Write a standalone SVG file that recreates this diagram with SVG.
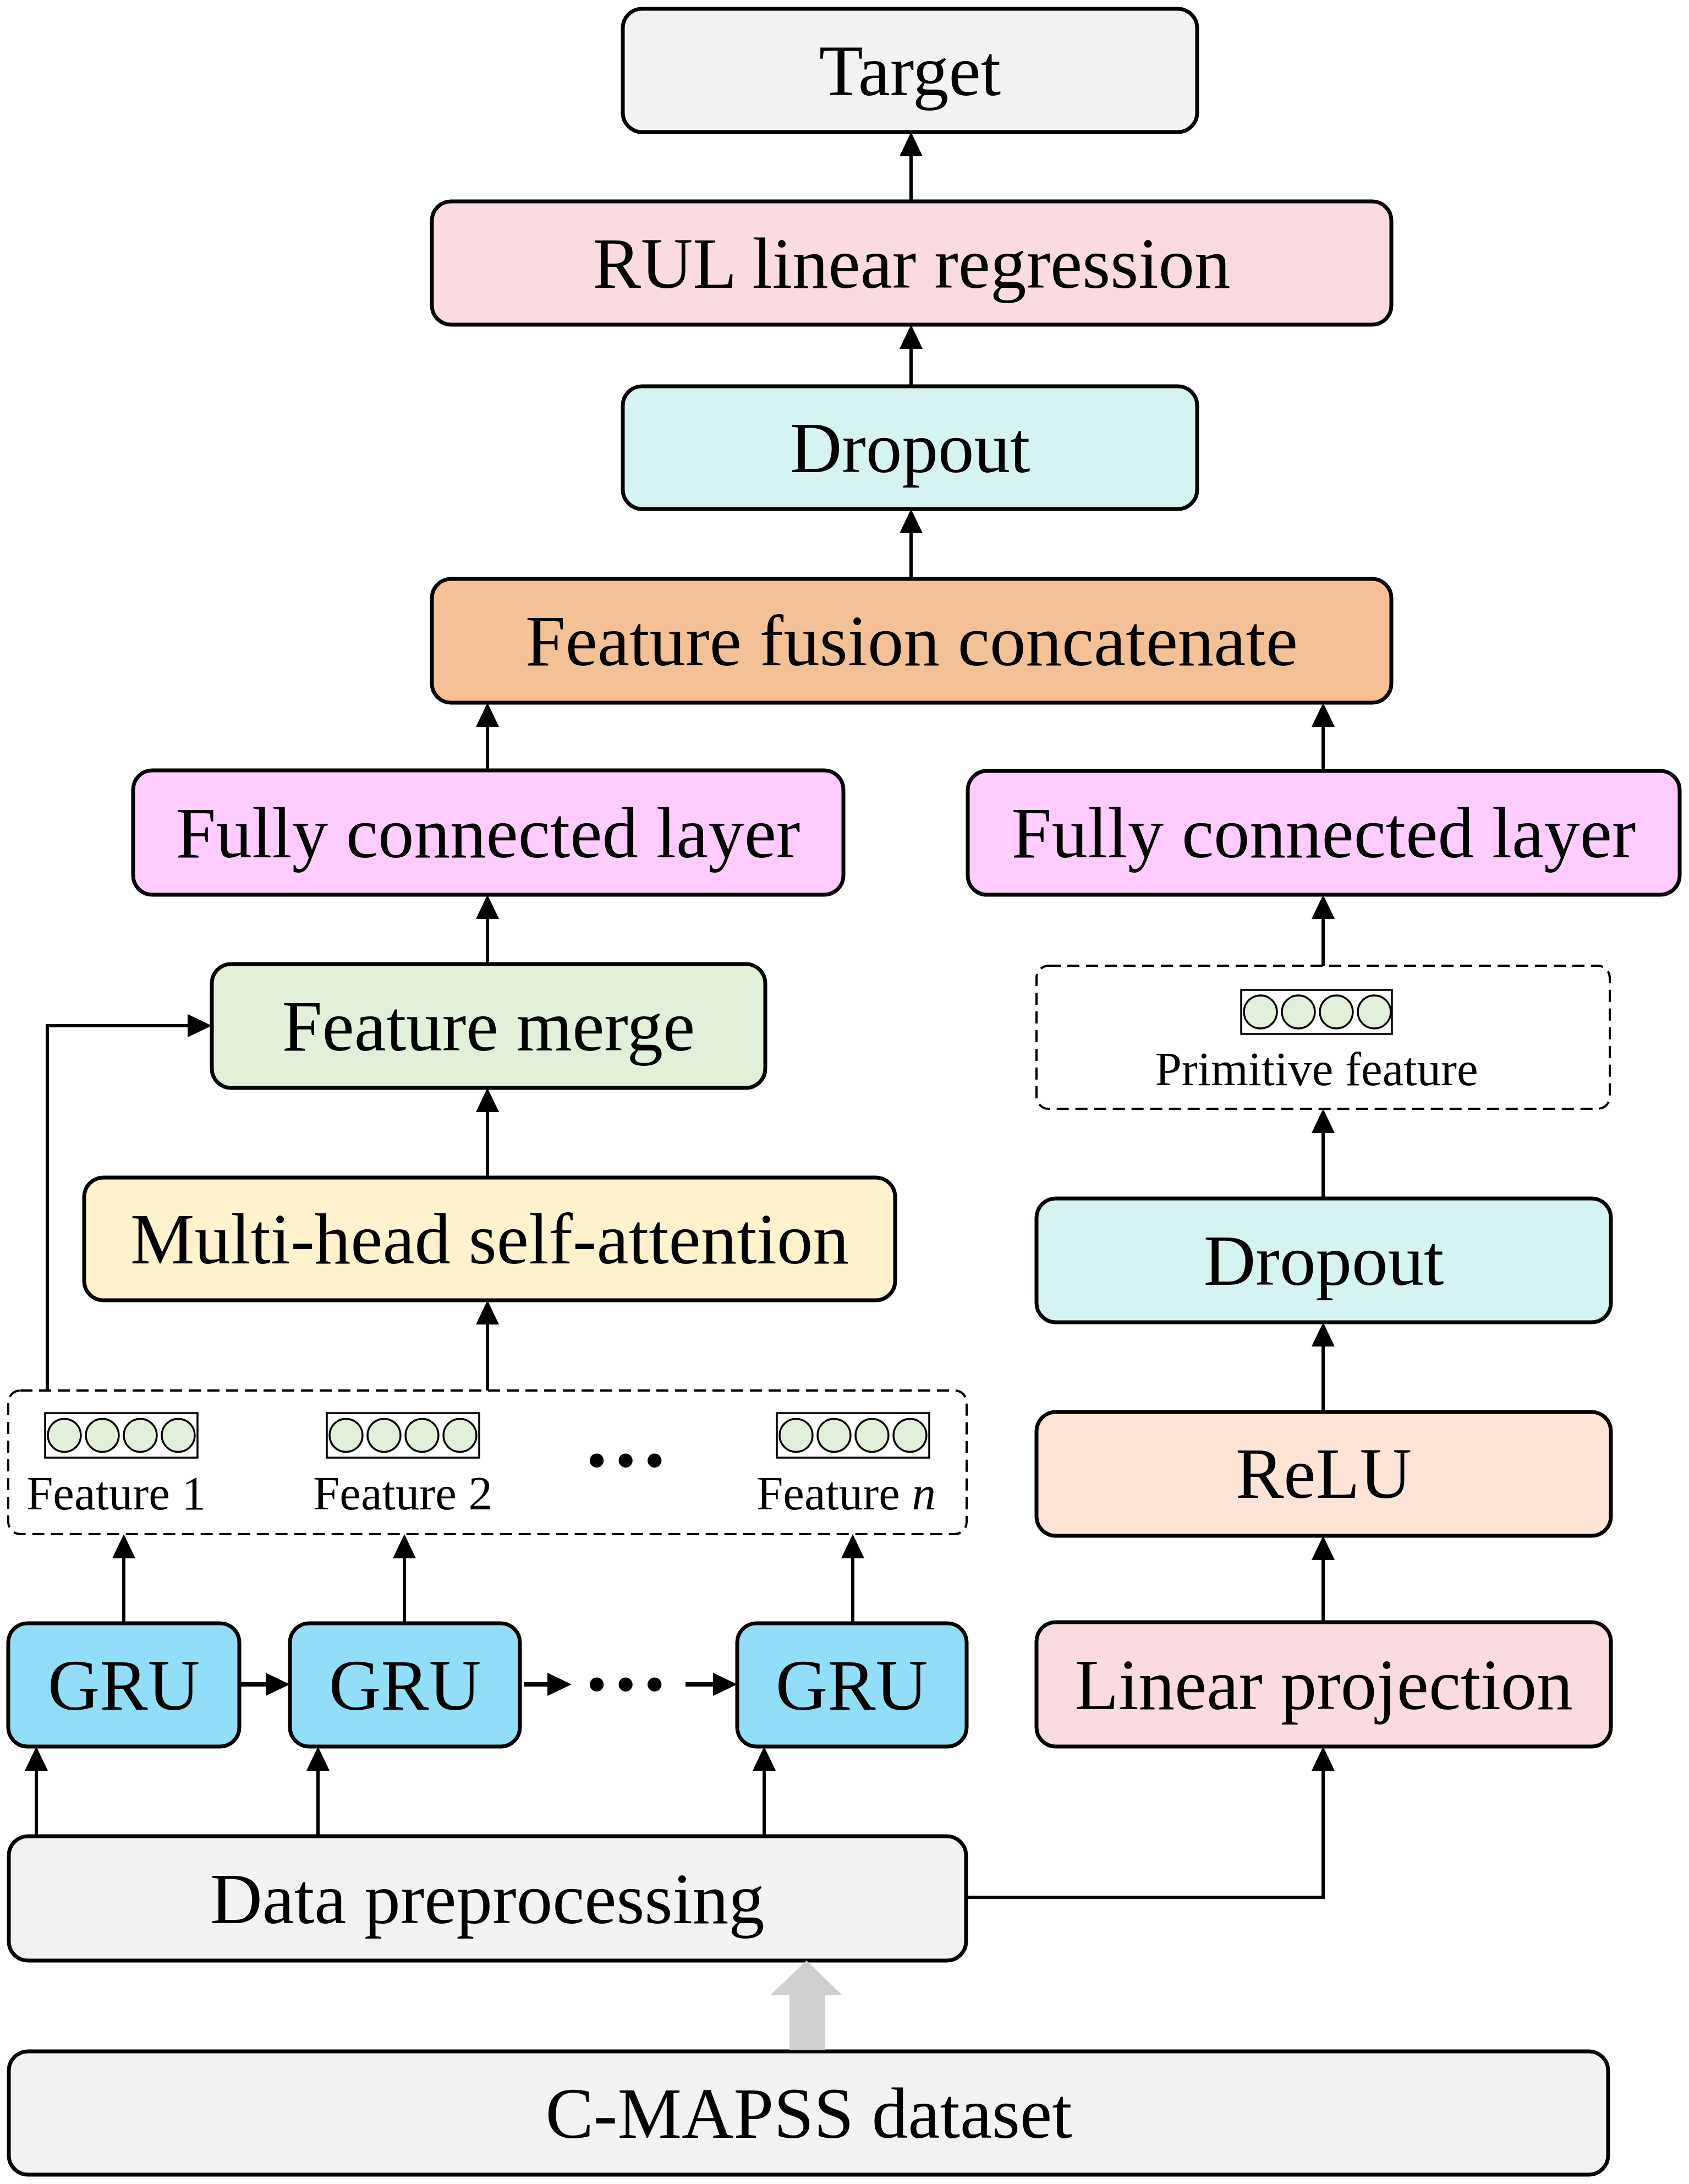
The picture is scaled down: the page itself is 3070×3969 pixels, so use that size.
<svg xmlns="http://www.w3.org/2000/svg" width="3070" height="3969" viewBox="0 0 3070 3969">
<style>
.box{stroke:#000;stroke-width:7}
.dash{fill:#fff;stroke:#000;stroke-width:4;stroke-dasharray:22 12}
.t{font-family:"Liberation Serif","Times New Roman",serif;font-size:131px;text-anchor:middle;fill:#000}
.s{font-family:"Liberation Serif","Times New Roman",serif;font-size:87px;text-anchor:middle;fill:#000}
.dots{font-family:"Liberation Serif","Times New Roman",serif;font-size:156px;font-weight:bold;text-anchor:middle;fill:#000}
.arr{fill:#fff;stroke:#000;stroke-width:3.5}
.cir{fill:#E2EFDA;stroke:#000;stroke-width:3.5}
.ln{fill:none;stroke:#000;stroke-width:6}
.lnb{fill:none;stroke:#000;stroke-width:8}
</style>
<defs>
<marker id="ah" viewBox="0 0 44 42" refX="0" refY="21" markerWidth="44" markerHeight="42" markerUnits="userSpaceOnUse" orient="auto">
<path d="M0,0 L44,21 L0,42 Z" fill="#000"/>
</marker>
</defs>
<rect width="3070" height="3969" fill="#fff"/>

<g id="target"><rect class="box" x="1132" y="16" width="1044" height="224" rx="35" fill="#F2F2F2"/><text class="t" x="1654" y="173">Target</text></g>
<g id="rul"><rect class="box" x="785" y="366" width="1744" height="224" rx="35" fill="#FADBE0"/><text class="t" x="1657" y="523">RUL linear regression</text></g>
<g id="dropout-top"><rect class="box" x="1132" y="702" width="1044" height="223" rx="35" fill="#D4F3F1"/><text class="t" x="1654" y="858">Dropout</text></g>
<g id="ffc"><rect class="box" x="785" y="1052" width="1744" height="225" rx="35" fill="#F4C096"/><text class="t" x="1657" y="1209">Feature fusion concatenate</text></g>
<g id="fc-left"><rect class="box" x="242" y="1400" width="1291" height="226" rx="35" fill="#FFCCFF"/><text class="t" x="887" y="1558">Fully connected layer</text></g>
<g id="fc-right"><rect class="box" x="1759" y="1401" width="1294" height="225" rx="35" fill="#FFCCFF"/><text class="t" x="2406" y="1558">Fully connected layer</text></g>
<g id="feature-merge"><rect class="box" x="385" y="1752" width="1006" height="225" rx="35" fill="#E2EFD9"/><text class="t" x="888" y="1909">Feature merge</text></g>
<g id="primitive">
<rect class="dash" x="1884" y="1755" width="1042" height="260" rx="22"/>
<rect class="arr" x="2256" y="1799" width="274" height="80"/>
<circle class="cir" cx="2291" cy="1839" r="30"/><circle class="cir" cx="2360" cy="1839" r="30"/><circle class="cir" cx="2429" cy="1839" r="30"/><circle class="cir" cx="2498" cy="1839" r="30"/>
<text class="s" x="2393" y="1972">Primitive feature</text>
</g>
<g id="mhsa"><rect class="box" x="153" y="2140" width="1474" height="223" rx="35" fill="#FFF2CC"/><text class="t" x="890" y="2296">Multi-head self-attention</text></g>
<g id="dropout-right"><rect class="box" x="1884" y="2178" width="1044" height="225" rx="35" fill="#D4F3F1"/><text class="t" x="2406" y="2335">Dropout</text></g>
<g id="features">
<rect class="dash" x="15" y="2527" width="1742" height="261" rx="22"/>
<rect class="arr" x="82" y="2568" width="277" height="81"/>
<circle class="cir" cx="117" cy="2608.5" r="30"/><circle class="cir" cx="186" cy="2608.5" r="30"/><circle class="cir" cx="255" cy="2608.5" r="30"/><circle class="cir" cx="324" cy="2608.5" r="30"/>
<rect class="arr" x="594" y="2568" width="277" height="81"/>
<circle class="cir" cx="629" cy="2608.5" r="30"/><circle class="cir" cx="698" cy="2608.5" r="30"/><circle class="cir" cx="767" cy="2608.5" r="30"/><circle class="cir" cx="836" cy="2608.5" r="30"/>
<rect class="arr" x="1412" y="2568" width="277" height="81"/>
<circle class="cir" cx="1447" cy="2608.5" r="30"/><circle class="cir" cx="1516" cy="2608.5" r="30"/><circle class="cir" cx="1585" cy="2608.5" r="30"/><circle class="cir" cx="1654" cy="2608.5" r="30"/>
<text class="s" x="211" y="2743">Feature 1</text>
<text class="s" x="732" y="2743">Feature 2</text>
<text class="s" x="1538" y="2743">Feature <tspan font-style="italic">n</tspan></text>
<text class="dots" x="1137" y="2665">…</text>
</g>
<g id="relu"><rect class="box" x="1884" y="2566" width="1044" height="225" rx="35" fill="#FCE4D6"/><text class="t" x="2406" y="2722">ReLU</text></g>
<g id="gru1"><rect class="box" x="15" y="2950" width="420" height="224" rx="35" fill="#92DEF8"/><text class="t" x="225" y="3107">GRU</text></g>
<g id="gru2"><rect class="box" x="527" y="2950" width="418" height="224" rx="35" fill="#92DEF8"/><text class="t" x="736" y="3107">GRU</text></g>
<g id="gru-dots"><text class="dots" x="1137" y="3072">…</text></g>
<g id="gru3"><rect class="box" x="1340" y="2950" width="417" height="224" rx="35" fill="#92DEF8"/><text class="t" x="1548" y="3107">GRU</text></g>
<g id="linear-projection"><rect class="box" x="1884" y="2948" width="1044" height="226" rx="35" fill="#FADBE0"/><text class="t" x="2406" y="3106">Linear projection</text></g>
<g id="data-preprocessing"><rect class="box" x="16" y="3337" width="1740" height="226" rx="35" fill="#F2F2F2"/><text class="t" x="886" y="3495">Data preprocessing</text></g>
<g id="cmapss"><rect class="box" x="16" y="3728" width="2907" height="224" rx="35" fill="#F2F2F2"/><text class="t" x="1470" y="3885">C-MAPSS dataset</text></g>

<g id="connectors">
<line class="ln" x1="1656" y1="366" x2="1656" y2="284" marker-end="url(#ah)"/>
<line class="ln" x1="1656" y1="702" x2="1656" y2="634" marker-end="url(#ah)"/>
<line class="ln" x1="1656" y1="1052" x2="1656" y2="969" marker-end="url(#ah)"/>
<line class="ln" x1="886" y1="1400" x2="886" y2="1321" marker-end="url(#ah)"/>
<line class="ln" x1="2405" y1="1401" x2="2405" y2="1321" marker-end="url(#ah)"/>
<line class="ln" x1="886" y1="1752" x2="886" y2="1670" marker-end="url(#ah)"/>
<line class="ln" x1="2405" y1="1755" x2="2405" y2="1670" marker-end="url(#ah)"/>
<line class="ln" x1="886" y1="2140" x2="886" y2="2021" marker-end="url(#ah)"/>
<line class="ln" x1="2405" y1="2178" x2="2405" y2="2059" marker-end="url(#ah)"/>
<line class="ln" x1="886" y1="2527" x2="886" y2="2407" marker-end="url(#ah)"/>
<line class="ln" x1="2405" y1="2566" x2="2405" y2="2447" marker-end="url(#ah)"/>
<polyline class="ln" points="86,2527 86,1864 341,1864" marker-end="url(#ah)"/>
<line class="ln" x1="225" y1="2950" x2="225" y2="2832" marker-end="url(#ah)"/>
<line class="ln" x1="735" y1="2950" x2="735" y2="2832" marker-end="url(#ah)"/>
<line class="ln" x1="1550" y1="2950" x2="1550" y2="2832" marker-end="url(#ah)"/>
<line class="ln" x1="2405" y1="2948" x2="2405" y2="2835" marker-end="url(#ah)"/>
<line class="ln" x1="66" y1="3337" x2="66" y2="3218" marker-end="url(#ah)"/>
<line class="ln" x1="578" y1="3337" x2="578" y2="3218" marker-end="url(#ah)"/>
<line class="ln" x1="1389" y1="3337" x2="1389" y2="3218" marker-end="url(#ah)"/>
<polyline class="ln" points="1756,3448 2405,3448 2405,3218" marker-end="url(#ah)"/>
<line class="lnb" x1="435" y1="3061" x2="483" y2="3061" marker-end="url(#ah)"/>
<line class="lnb" x1="953" y1="3061" x2="995" y2="3061" marker-end="url(#ah)"/>
<line class="lnb" x1="1246" y1="3061" x2="1296" y2="3061" marker-end="url(#ah)"/>
<polygon points="1435,3726 1500,3726 1500,3626 1531,3626 1466,3563 1400,3626 1435,3626" fill="#D0CECE"/>
</g>
</svg>
